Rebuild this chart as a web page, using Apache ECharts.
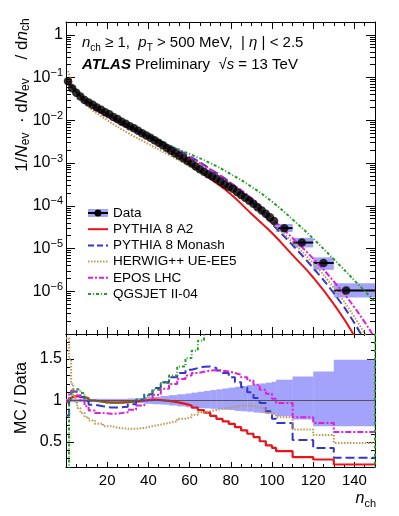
<!DOCTYPE html>
<html>
<head>
<meta charset="utf-8">
<title>Charged-particle multiplicity</title>
<script src="https://cdn.jsdelivr.net/npm/echarts@6.0.0/dist/echarts.min.js"></script>
<style>
  html, body { margin: 0; padding: 0; background: #fff; }
  #chart { width: 399px; height: 516px; }
</style>
</head>
<body>
<div id="chart"></div>
<script>
// measured distribution, fine bins (odd n_ch only, dense black chain)
const dataN = [1, 3, 5, 7, 9, 11, 13, 15, 17, 19, 21, 23, 25, 27, 29, 31, 33, 35, 37, 39,
  41, 43, 45, 47, 49, 51, 53, 55, 57, 59, 61, 63, 65, 67, 69, 71, 73, 75, 77, 79,
  81, 83, 85, 87, 89, 91, 93, 95, 97, 99, 101];
const dataVal = [0.082, 0.056, 0.044, 0.036, 0.030, 0.026, 0.023, 0.020, 0.0178, 0.0155,
  0.0138, 0.0120, 0.0107, 0.0093, 0.0083, 0.0073, 0.0065, 0.0057, 0.0050, 0.0044,
  0.0039, 0.0034, 0.0030, 0.0026, 0.00226, 0.00195, 0.0017, 0.00148, 0.00129, 0.00112,
  0.00098, 0.00083, 0.00072, 0.00063, 0.00055, 0.00049, 0.00043, 0.00037, 0.00032, 0.00028,
  0.00025, 0.00021, 0.00018, 0.000155, 0.000132, 0.000112, 0.000093, 0.000078, 0.000065, 0.000054,
  0.000044];
// wide bins at high multiplicity
const wideLo = [102, 110, 120, 130];
const wideHi = [110, 120, 130, 150];
const wideX = [106, 114.5, 125, 136];
const wideVal = [3.0e-5, 1.38e-5, 4.6e-6, 1.04e-6];

// generator predictions (upper panel)
const mcN = [1, 2, 3, 5, 10, 20, 30, 40, 50, 60, 70, 80, 90, 100, 110, 120, 130, 140, 150];
const topA2 = [0.080, 0.070, 0.058, 0.046, 0.0287, 0.0142, 0.0077, 0.0041, 0.0021, 0.00098,
  0.00043, 0.000187, 6.5e-5, 2.3e-5, 7e-6, 2.1e-6, 5e-7, 9e-8, 1e-8];
const topMonash = [0.067, 0.069, 0.062, 0.048, 0.0277, 0.0134, 0.0073, 0.0044, 0.0026, 0.00145,
  0.00073, 0.00034, 0.000128, 3.8e-5, 1.2e-5, 3.5e-6, 9e-7, 1.8e-7, 2.5e-8];
const topHerwig = [0.143, 0.1, 0.067, 0.043, 0.0224, 0.0101, 0.0051, 0.0028, 0.00155, 0.00085,
  0.00046, 0.00024, 0.000114, 4.1e-5, 1.4e-5, 4.5e-6, 1.2e-6, 2.5e-7, 4e-8];
const topEpos = [0.082, 0.073, 0.063, 0.048, 0.026, 0.0123, 0.0068, 0.0041, 0.0024, 0.00137,
  0.00071, 0.00034, 0.00015, 5.0e-5, 1.75e-5, 5.8e-6, 1.7e-6, 4.2e-7, 8e-8];
const topQgsjet = [0.065, 0.068, 0.062, 0.05, 0.0288, 0.0142, 0.0076, 0.0044, 0.0026, 0.00163,
  0.001, 0.00055, 0.00028, 0.000125, 4.8e-5, 1.7e-5, 5.6e-6, 1.8e-6, 5.6e-7];

// ratio panel: histogram bin edges, data band and MC/Data per bin
const edges = [0, 1.5, 2.5, 3.5, 4.5, 5.5, 7, 9, 11, 14, 18, 22, 26, 30, 34, 38, 42, 46, 50, 54,
  58, 61, 64, 67, 70, 73, 76, 79, 82, 85, 88, 91, 94, 97, 100, 102, 110, 120, 130, 150];
const bandUp = [0.02, 0.02, 0.02, 0.02, 0.02, 0.02, 0.02, 0.02, 0.02, 0.02, 0.02, 0.02, 0.02,
  0.025, 0.03, 0.04, 0.045, 0.055, 0.065, 0.075, 0.085, 0.095, 0.105, 0.115, 0.125, 0.135,
  0.145, 0.155, 0.165, 0.175, 0.185, 0.195, 0.205, 0.215, 0.225, 0.25, 0.29, 0.35, 0.49];
const bandDn = [0.02, 0.02, 0.02, 0.02, 0.02, 0.02, 0.02, 0.02, 0.02, 0.02, 0.02, 0.02, 0.02,
  0.025, 0.03, 0.04, 0.045, 0.05, 0.06, 0.07, 0.08, 0.085, 0.09, 0.095, 0.1, 0.105,
  0.11, 0.115, 0.125, 0.13, 0.135, 0.145, 0.15, 0.16, 0.165, 0.19, 0.23, 0.31, 0.31];
const ratioA2 = [0.98, 1.03, 1.045, 1.05, 1.05, 1.045, 1.04, 1.025, 1.0, 0.985,
  0.975, 0.975, 0.98, 0.99, 1.0, 1.01, 1.005, 0.995, 0.98, 0.96,
  0.94, 0.915, 0.885, 0.855, 0.815, 0.78, 0.75, 0.72, 0.68, 0.64,
  0.6, 0.56, 0.51, 0.46, 0.43, 0.39, 0.32, 0.29, 0.23];
const ratioMonash = [0.82, 1.02, 1.1, 1.11, 1.1, 1.08, 1.04, 0.99, 0.95, 0.93,
  0.915, 0.915, 0.925, 0.955, 1.01, 1.075, 1.15, 1.22, 1.28, 1.33,
  1.37, 1.39, 1.405, 1.41, 1.39, 1.36, 1.33, 1.28, 1.22, 1.16,
  1.1, 1.03, 0.97, 0.87, 0.78, 0.73, 0.525, 0.43, 0.31];
const ratioHerwig = [1.75, 1.5, 1.2, 1.05, 0.97, 0.91, 0.85, 0.8, 0.76, 0.72,
  0.69, 0.67, 0.66, 0.66, 0.67, 0.69, 0.71, 0.73, 0.75, 0.78,
  0.8, 0.83, 0.855, 0.87, 0.885, 0.9, 0.91, 0.92, 0.935, 0.94,
  0.935, 0.92, 0.9, 0.85, 0.83, 0.8, 0.65, 0.585, 0.49];
const ratioEpos = [1.0, 1.08, 1.12, 1.12, 1.1, 1.06, 1.0, 0.93, 0.88, 0.85,
  0.84, 0.845, 0.86, 0.89, 0.94, 1.0, 1.07, 1.14, 1.2, 1.26,
  1.3, 1.33, 1.345, 1.36, 1.365, 1.36, 1.35, 1.33, 1.31, 1.28,
  1.24, 1.19, 1.13, 1.08, 1.02, 0.97, 0.8, 0.73, 0.62];
const ratioQgsjet = [0.1, 1.0, 1.1, 1.13, 1.135, 1.13, 1.09, 1.03, 1.0, 0.98,
  0.97, 0.97, 0.975, 0.985, 1.01, 1.06, 1.13, 1.21, 1.3, 1.41,
  1.51, 1.6, 1.72, 1.83, 1.95, 2.05, 2.15, 2.25, 2.3, 2.35,
  2.4, 2.45, 2.5, 2.55, 2.6, 2.6, 2.6, 2.7, 2.9];

// axis ticks
const xMajor = [0, 20, 40, 60, 80, 100, 120, 140];
const xLabels = [20, 40, 60, 80, 100, 120, 140];
const logMajor = [-7, -6, -5, -4, -3, -2, -1, 0];
const logLabels = [-6, -5, -4, -3, -2, -1, 0];
const ratioMajor = [0.5, 1, 1.5];

const FONT = '"Liberation Sans", Arial, sans-serif';
const RED = '#e8141a', BLUE = '#3535d2', TAN = '#c39752', MAG = '#de1ede', GRN = '#1f9f1f';
const BAND = '#a3a3fb';
const LOGMAX = Math.log10(2);

let xMinor = [];
for (let v = 5; v < 150; v += 5) if (v % 20) xMinor.push(v);
let logMinor = [];
for (let k = -7; k < 1; k++) for (let m = 2; m <= 9; m++) {
  const v = k + Math.log10(m);
  if (v <= LOGMAX) logMinor.push(v);
}
let ratioMinor = [];
for (let i = 2; i <= 18; i++) if (i % 5) ratioMinor.push(i / 10);

function ax(grid, pos, range, ticks, len, main, label) {
  return {
    type: 'value', gridIndex: grid, position: pos, min: range[0], max: range[1],
    axisLine: { show: main, onZero: false, lineStyle: { color: '#000', width: 1 } },
    axisTick: { show: true, inside: true, length: len, customValues: ticks,
      lineStyle: { color: '#000', width: 1 } },
    axisLabel: label || { show: false },
    splitLine: { show: false }
  };
}

const xr = [0, 150], yTop = [-7, LOGMAX], yRat = [0.2, 1.8];
const xAxes = [
  ax(0, 'bottom', xr, xMajor, 7, true), ax(0, 'bottom', xr, xMinor, 4, false),
  ax(0, 'top', xr, xMajor, 7, true), ax(0, 'top', xr, xMinor, 4, false),
  ax(1, 'bottom', xr, xMajor, 5, true, {
    show: true, customValues: xLabels, margin: 6, fontSize: 15, color: '#000', fontFamily: FONT
  }),
  ax(1, 'bottom', xr, xMinor, 3, false),
  ax(1, 'top', xr, xMajor, 4, true), ax(1, 'top', xr, xMinor, 2, false)
];
const yAxes = [
  ax(0, 'left', yTop, logMajor, 9, true, {
    show: true, customValues: logLabels, margin: 3, fontSize: 16, color: '#000', fontFamily: FONT,
    formatter: v => Math.round(v) === 0 ? '1' : '{b|10}{e|\u2212' + Math.round(-v) + '}',
    rich: {
      b: { fontSize: 16, fontFamily: FONT, lineHeight: 20, color: '#000' },
      e: { fontSize: 11, fontFamily: FONT, lineHeight: 11, verticalAlign: 'top', color: '#000' }
    }
  }),
  ax(0, 'left', yTop, logMinor, 5, false),
  ax(0, 'right', yTop, logMajor, 9, true), ax(0, 'right', yTop, logMinor, 5, false),
  ax(1, 'left', yRat, ratioMajor, 8, true, {
    show: true, customValues: ratioMajor, margin: 4, fontSize: 16, color: '#000', fontFamily: FONT
  }),
  ax(1, 'left', yRat, ratioMinor, 4, false),
  ax(1, 'right', yRat, ratioMajor, 8, true), ax(1, 'right', yRat, ratioMinor, 4, false)
];

function topLine(name, vals, color, width, dash) {
  return {
    name: name, type: 'line', xAxisIndex: 0, yAxisIndex: 0, z: 3,
    data: mcN.map((n, i) => [n, Math.log10(vals[i])]),
    smooth: 0.5, symbol: 'none',
    lineStyle: { color: color, width: width, type: dash }
  };
}
function ratioLine(name, vals, color, width, dash, dropToZero) {
  const d = edges.slice(0, -1).map((e, i) => [e, vals[i]]);
  d.push([edges[edges.length - 1], vals[vals.length - 1]]);
  if (dropToZero) d.push([edges[edges.length - 1], 0]);
  return {
    name: name, type: 'line', xAxisIndex: 4, yAxisIndex: 4, z: 3,
    data: d, step: 'end', symbol: 'none',
    lineStyle: { color: color, width: width, type: dash }
  };
}

const nb = wideVal.length;
const off = bandUp.length - nb;
const wideBoxes = wideVal.map((v, i) => [wideLo[i], wideHi[i], Math.log10(v),
  Math.log10(v * (1 - bandDn[off + i])), Math.log10(v * (1 + bandUp[off + i]))]);
const bandData = bandUp.map((u, i) => [edges[i], edges[i + 1], 1 - bandDn[i], 1 + u]);

const series = [
  {
    name: 'Data uncertainty', type: 'custom', xAxisIndex: 0, yAxisIndex: 0, z: 2, clip: true,
    data: wideBoxes, encode: { x: [0, 1], y: [2, 3, 4] },
    renderItem: (params, api) => {
      const a = api.coord([api.value(0), api.value(4)]);
      const b = api.coord([api.value(1), api.value(3)]);
      const c = api.coord([api.value(0), api.value(2)]);
      const d = api.coord([api.value(1), api.value(2)]);
      return { type: 'group', children: [
        { type: 'rect', shape: { x: a[0], y: a[1], width: b[0] - a[0], height: b[1] - a[1] },
          style: { fill: BAND } },
        { type: 'line', shape: { x1: c[0], y1: c[1], x2: d[0], y2: d[1] },
          style: { stroke: '#000', lineWidth: 2 } }
      ] };
    }
  },
  topLine('PYTHIA 8 A2', topA2, RED, 2, 'solid'),
  topLine('PYTHIA 8 Monash', topMonash, BLUE, 2, [8, 4]),
  topLine('HERWIG++ UE-EE5', topHerwig, TAN, 2, [1.5, 1.5]),
  topLine('EPOS LHC', topEpos, MAG, 2, [6, 2, 2, 2]),
  topLine('QGSJET II-04', topQgsjet, GRN, 2, [3, 2, 1, 2]),
  {
    name: 'Data', type: 'scatter', xAxisIndex: 0, yAxisIndex: 0, z: 5,
    symbol: 'circle', symbolSize: 8.5, itemStyle: { color: '#000' },
    data: dataN.map((n, i) => [n, Math.log10(dataVal[i])])
      .concat(wideX.map((n, i) => [n, Math.log10(wideVal[i])]))
  },
  {
    name: 'Data band', type: 'custom', xAxisIndex: 4, yAxisIndex: 4, z: 1, clip: true,
    data: bandData, encode: { x: [0, 1], y: [2, 3] },
    renderItem: (params, api) => {
      const a = api.coord([api.value(0), api.value(3)]);
      const b = api.coord([api.value(1), api.value(2)]);
      return { type: 'rect', shape: { x: a[0], y: a[1], width: b[0] - a[0] + 0.3, height: b[1] - a[1] },
        style: { fill: BAND } };
    },
    markLine: { silent: true, symbol: 'none', label: { show: false },
      lineStyle: { color: '#555', width: 1, type: 'solid' }, data: [{ yAxis: 1 }] }
  },
  ratioLine('PYTHIA 8 A2 / Data', ratioA2, RED, 2.2, 'solid'),
  ratioLine('PYTHIA 8 Monash / Data', ratioMonash, BLUE, 2, [9, 4]),
  ratioLine('HERWIG++ UE-EE5 / Data', ratioHerwig, TAN, 2, [1.5, 1.5]),
  ratioLine('EPOS LHC / Data', ratioEpos, MAG, 2, [6, 2, 2, 2]),
  ratioLine('QGSJET II-04 / Data', ratioQgsjet, GRN, 2, [3, 2, 1, 2], true)
];

function rich(size) {
  return {
    r: { fontSize: size, fontFamily: FONT, lineHeight: 20, fill: '#000' },
    i: { fontSize: size, fontFamily: FONT, fontStyle: 'italic', lineHeight: 20, fill: '#000' },
    b: { fontSize: size, fontFamily: FONT, fontStyle: 'italic', fontWeight: 'bold', lineHeight: 20, fill: '#000' },
    s: { fontSize: Math.round(size * 0.68), fontFamily: FONT, lineHeight: 12, verticalAlign: 'bottom', fill: '#000' }
  };
}

// legend drawn by hand (ROOT style)
const legendItems = [
  { name: 'PYTHIA 8 A2', color: RED, dash: null },
  { name: 'PYTHIA 8 Monash', color: BLUE, dash: [6, 3] },
  { name: 'HERWIG++ UE-EE5', color: TAN, dash: [1.5, 1.5] },
  { name: 'EPOS LHC', color: MAG, dash: [5, 2, 2, 2] },
  { name: 'QGSJET II-04', color: GRN, dash: [3, 2, 1, 2] }
];
const legY = 213, legStep = 16.2, legFont = '13.5px ' + FONT;
const legend = [
  { type: 'rect', shape: { x: 88, y: legY - 4, width: 20, height: 8 }, style: { fill: BAND } },
  { type: 'line', shape: { x1: 88, y1: legY, x2: 108, y2: legY }, style: { stroke: '#000', lineWidth: 2 } },
  { type: 'circle', shape: { cx: 98, cy: legY, r: 3.5 }, style: { fill: '#000' } },
  { type: 'text', x: 113, y: legY, style: { text: 'Data', font: legFont, fill: '#000', verticalAlign: 'middle' } }
];
legendItems.forEach((it, k) => {
  const y = legY + legStep * (k + 1);
  legend.push({ type: 'line', shape: { x1: 88, y1: y, x2: 108, y2: y },
    style: { stroke: it.color, lineWidth: 2, lineDash: it.dash } });
  legend.push({ type: 'text', x: 113, y: y,
    style: { text: it.name, font: legFont, fill: '#000', verticalAlign: 'middle' } });
});

const option = {
  animation: false,
  backgroundColor: '#fff',
  textStyle: { fontFamily: FONT },
  grid: [
    { left: 66, right: 24, top: 22, height: 312 },
    { left: 66, right: 24, top: 334, height: 133 }
  ],
  xAxis: xAxes,
  yAxis: yAxes,
  series: series,
  graphic: [
    { type: 'text', x: 82, y: 43, z: 10, style: {
      text: '{i|n}{s|ch}{r| \u2265 1,  }{i|p}{s|T}{r| > 500 MeV,  | }{i|\u03b7}{r| | < 2.5}',
      rich: rich(15), font: '15px ' + FONT, verticalAlign: 'middle' } },
    { type: 'text', x: 82, y: 65, z: 10, style: {
      text: '{b|ATLAS}{r| Preliminary  \u221a}{i|s}{r| = 13 TeV}',
      rich: rich(15), font: '15px ' + FONT, verticalAlign: 'middle' } },
    { type: 'text', x: 22, y: 95, rotation: Math.PI / 2, z: 10, style: {
      text: '{r|1/}{i|N}{s|ev}{r|  \u00b7 d}{i|N}{s|ev}{r|    / d}{i|n}{s|ch}',
      rich: rich(17), font: '17px ' + FONT, align: 'center', verticalAlign: 'middle' } },
    { type: 'text', x: 22, y: 398, rotation: Math.PI / 2, z: 10, style: {
      text: 'MC / Data', font: '16px ' + FONT, fill: '#000', align: 'center', verticalAlign: 'middle' } },
    { type: 'text', x: 376, y: 499, z: 10, style: {
      text: '{i|n}{s|ch}', rich: rich(16), font: '16px ' + FONT, align: 'right', verticalAlign: 'middle' } },
    { type: 'group', z: 10, children: legend }
  ]
};

const chart = echarts.init(document.getElementById('chart'));
chart.setOption(option);
</script>
</body>
</html>
